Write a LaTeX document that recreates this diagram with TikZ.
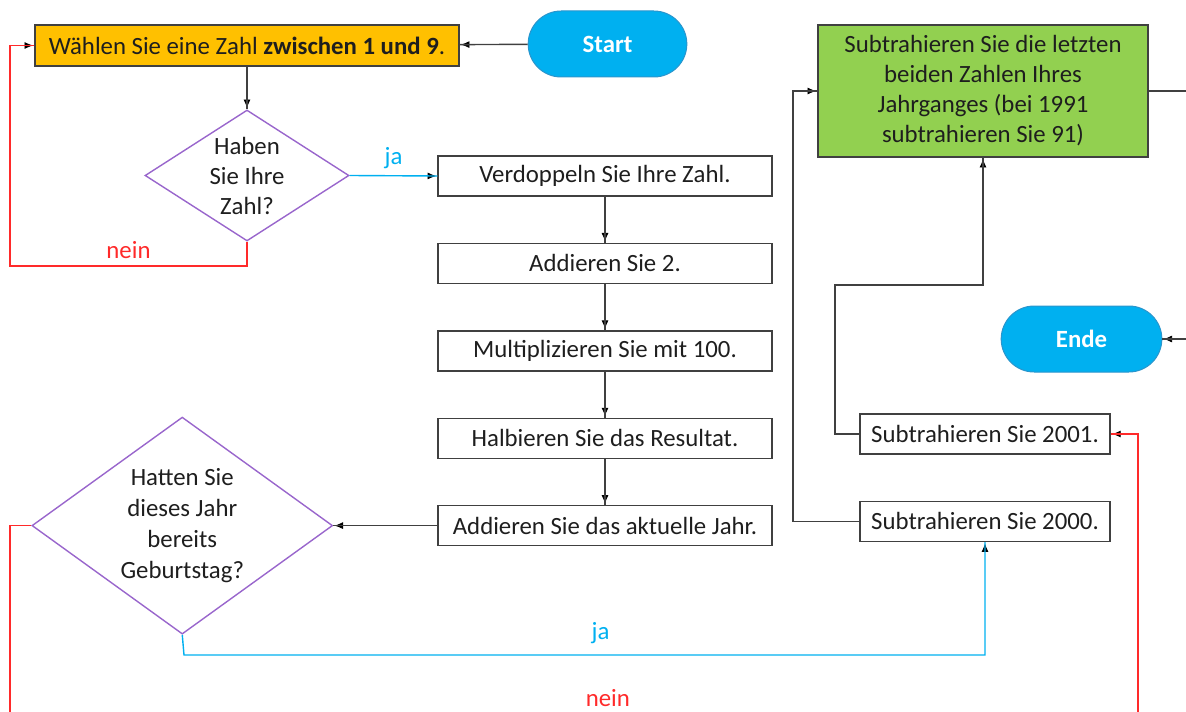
\documentclass[tikz,border=0pt]{standalone}
\usepackage{fontspec}
\setmainfont{Carlito}
\usetikzlibrary{positioning, calc, shapes.geometric, shapes.misc, arrows.meta, decorations.markings}
\definecolor{Ink}{HTML}{1E1E1E}
\definecolor{Wire}{HTML}{404040}
\definecolor{Amber}{HTML}{FFC000}
\definecolor{Leaf}{HTML}{92D050}
\definecolor{Sky}{HTML}{00B0F0}
\definecolor{SkyEdge}{HTML}{2A95CC}
\definecolor{Alarm}{HTML}{FF2A2A}
\definecolor{Violet}{HTML}{9966CC}
\tikzstyle{Box} = [rectangle, draw=Wire, line width=0.7pt, align=center,
minimum width=167pt, minimum height=20pt, inner sep=2pt]
\tikzstyle{Decision} = [diamond, draw=Violet, line width=0.7pt, align=center,
aspect=1.55, inner sep=0pt]
\tikzstyle{Terminal} = [rounded rectangle, fill=Sky, draw=SkyEdge, line width=0.5pt,
minimum width=86pt, minimum height=33pt, text=white]
\tikzstyle{Line} = [line width=0.7pt, color=Wire]
\tikzstyle{Arrow} = [
line width=0.7pt,
decoration={
markings,
mark=at position 0.9999 with {
\arrow{Latex[length=5pt, width=4pt]}}},
preaction = {decorate}]

\begin{document}
\begin{tikzpicture}[x=0.5pt, y=-0.5pt, node distance=23pt, font=\fontsize{12.4}{15}\selectfont, text=Ink]
    \useasboundingbox (0,0) rectangle (1186,711);
    \clip (0,0) rectangle (1186,711);
    \node [Box, fill=Amber, minimum width=212pt, minimum height=20.5pt] (1) at (247,45.5) {W\"ahlen Sie eine Zahl \textbf{zwischen 1 und 9}.};
    \node [Terminal] (2) at (607.5,44) {\textbf{Start}};
    \node [Decision, minimum width=102pt, minimum height=65.5pt] (3) at (247,175.5) {Haben\\Sie Ihre\\Zahl?};
    \node [Box] (4) at (605,176) {Verdoppeln Sie Ihre Zahl.};
    \node [below =of 4, Box] (5) {Addieren Sie 2.};
    \node [below =of 5, Box] (6) {Multiplizieren Sie mit 100.};
    \node [below =of 6, Box] (7) {Halbieren Sie das Resultat.};
    \node [below =of 7, Box] (8) {Addieren Sie das aktuelle Jahr.};
    \node [left =52pt of 8, Decision, minimum width=149.5pt, minimum height=108.5pt, font=\fontsize{12.4}{15.5}\selectfont] (9) {Hatten Sie\\dieses Jahr\\bereits\\Geburtstag?};
    \node [Box, fill=Leaf, minimum width=165pt, minimum height=66pt] (10) at (983,91) {Subtrahieren Sie die letzten\\beiden Zahlen Ihres\\Jahrganges (bei 1991\\subtrahieren Sie 91)};
    \node [Box, minimum width=125pt] (12) at (985,434) {Subtrahieren Sie 2001.};
    \node [below =of 12, Box, minimum width=125pt] (11) {Subtrahieren Sie 2000.};
    \node [Terminal, minimum width=87pt] (13) at (1081.5,339) {\textbf{Ende}};
    \coordinate (14) at (1210,91);
    \coordinate (15) at (1210,339);
    \coordinate (16) at (10,714);
    \coordinate (17) at (1138,714);
    \coordinate (18) at (10,266);
    \coordinate (19) at (184,655);
    \coordinate (20) at (835,285);
    \coordinate (21) at (793,91);
    \draw [Arrow, color=Wire] (2) to (1); \draw [Arrow, color=Wire] (1) to (3);
    \draw [Arrow, color=Sky] (3.east) to node [above, text=Sky] {ja} (4.west);
    \draw [Arrow, color=Alarm] (3.south) |- node [pos=0.75, above, text=Alarm] {nein} (18) |- (1.west);
    \draw [Arrow, color=Wire] (4) to (5); \draw [Arrow, color=Wire] (5) to (6);
    \draw [Arrow, color=Wire] (6) to (7); \draw [Arrow, color=Wire] (7) to (8);
    \draw [Arrow, color=Wire] (8.west) to (9.east);
    \draw [Arrow, color=Sky] (9.south) -- (19) -| node [pos=0.26, above, yshift=2pt, text=Sky] {ja} (11.south);
    \draw [Arrow, color=Alarm] (9.west) -| (16) -| node [pos=0.265, above, text=Alarm] {nein} (17) |- (12.east);
    \draw [Arrow, color=Wire] (12.west) -| (20) -| (10.south);
    \draw [Arrow, color=Wire] (11.west) -| (21) -- (10.west);
    \draw [Line] (10.east) -- (14);
    \draw [Arrow, color=Wire] (15) -- (13.east);
\end{tikzpicture}
\end{document}
